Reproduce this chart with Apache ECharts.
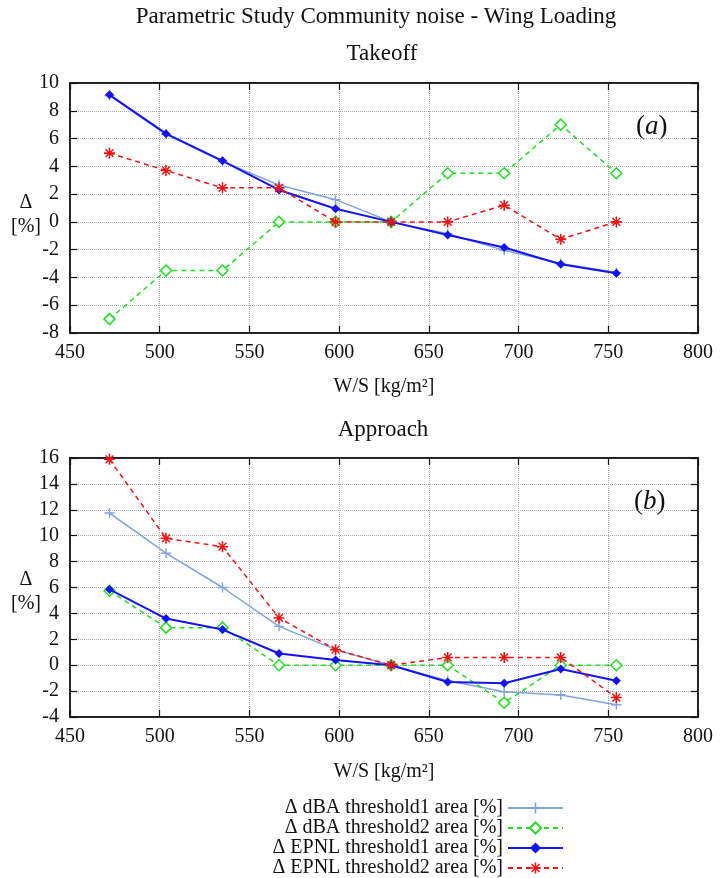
<!DOCTYPE html>
<html>
<head>
<meta charset="utf-8">
<script src="https://cdn.jsdelivr.net/npm/echarts@6/dist/echarts.min.js"></script>
<style>
  html, body { margin: 0; padding: 0; background: #fff; }
  #chart { width: 726px; height: 878px; }
</style>
</head>
<body>
<div id="chart"></div>
<script>
// W/S values of the ten design points [kg/m2]
var wsValues = [472, 503.5, 535, 566.5, 598, 629, 660.5, 692, 723.5, 754.5];
var xTicks = [450, 800, 50];

// Takeoff, delta [%]
var toDbaT1  = [9.1, 6.3, 4.35, 2.65, 1.6, 0, -0.85, -2.05, -3.0, -3.65];
var toDbaT2  = [-7, -3.5, -3.5, 0, 0, 0, 3.5, 3.5, 7, 3.5];
var toEpnlT1 = [9.15, 6.35, 4.4, 2.3, 0.95, 0, -0.95, -1.85, -3.05, -3.7];
var toEpnlT2 = [4.95, 3.7, 2.45, 2.45, 0, 0, 0, 1.2, -1.25, 0];

// Approach, delta [%]
var apDbaT1  = [11.75, 8.65, 6.0, 3.0, 1.2, 0, -1.2, -2.05, -2.3, -3.05];
var apDbaT2  = [5.75, 2.9, 2.9, 0, 0, 0, 0, -2.9, 0, 0];
var apEpnlT1 = [5.85, 3.6, 2.75, 0.9, 0.4, 0, -1.3, -1.4, -0.3, -1.2];
var apEpnlT2 = [15.9, 9.8, 9.15, 3.65, 1.2, 0, 0.6, 0.6, 0.6, -2.5];

var seriesNames = [
  'Δ dBA threshold1 area [%]',
  'Δ dBA threshold2 area [%]',
  'Δ EPNL threshold1 area [%]',
  'Δ EPNL threshold2 area [%]'
];

var font = 'Liberation Serif';
var plusPath = 'path://M4.3,0H5.7V4.3H10V5.7H5.7V10H4.3V5.7H0V4.3H4.3Z';
var starPath = 'path://M4.3,0h1.4v10h-1.4z M0,4.3h10v1.4h-10z M1,1.9L1.9,1L9,8.1L8.1,9z M9,1.9L1.9,9L1,8.1L8.1,1z';

var styles = [
  { color: '#7fa3dd', width: 1.5, type: 'solid',  symbol: plusPath, size: 10, hollow: false },
  { color: '#22dd22', width: 1.5, type: [5, 4],   symbol: 'diamond', size: 11, hollow: true },
  { color: '#1414ee', width: 2,   type: 'solid',  symbol: 'diamond', size: 9,  hollow: false },
  { color: '#ee1414', width: 1.5, type: [5, 4],   symbol: starPath, size: 11, hollow: false }
];

function pairs(ys) {
  return ys.map(function (y, i) { return [wsValues[i], y]; });
}

function makeSeries(k, ys, gi) {
  var s = styles[k];
  return {
    name: seriesNames[k],
    type: 'line',
    xAxisIndex: gi * 2,
    yAxisIndex: gi * 2,
    data: pairs(ys),
    symbol: s.symbol,
    symbolSize: s.size,
    showAllSymbol: true,
    z: 2 + k,
    lineStyle: { color: s.color, width: s.width, type: s.type },
    itemStyle: s.hollow
      ? { color: '#fff', borderColor: s.color, borderWidth: 1.5 }
      : { color: s.color, borderWidth: 0 },
    emphasis: { disabled: true },
    animation: false
  };
}

function xAxes(gi, gap) {
  var base = {
    type: 'value', gridIndex: gi, min: xTicks[0], max: xTicks[1], interval: xTicks[2],
    axisLine: { show: true, onZero: false, lineStyle: { color: '#111', width: 1.5 } },
    axisTick: { show: true, inside: true, length: 7, lineStyle: { color: '#111', width: 1.2 } }
  };
  var bottom = Object.assign({}, base, {
    position: 'bottom',
    name: 'W/S [kg/m²]', nameLocation: 'middle', nameGap: gap,
    nameTextStyle: { fontFamily: font, fontSize: 20, color: '#111' },
    axisLabel: { fontFamily: font, fontSize: 20, color: '#111', margin: 10 },
    splitLine: { show: true, lineStyle: { color: '#aaa', type: 'dotted', width: 1 } }
  });
  var top = Object.assign({}, base, {
    position: 'top', axisLabel: { show: false }, splitLine: { show: false }
  });
  return [bottom, top];
}

function yAxes(gi, min, max) {
  var base = {
    type: 'value', gridIndex: gi, min: min, max: max, interval: 2,
    axisLine: { show: true, onZero: false, lineStyle: { color: '#111', width: 1.5 } },
    axisTick: { show: true, inside: true, length: 7, lineStyle: { color: '#111', width: 1.2 } }
  };
  var left = Object.assign({}, base, {
    position: 'left',
    axisLabel: { fontFamily: font, fontSize: 20, color: '#111', margin: 11 },
    splitLine: { show: true, lineStyle: { color: '#aaa', type: 'dotted', width: 1 } }
  });
  var right = Object.assign({}, base, {
    position: 'right', axisLabel: { show: false }, splitLine: { show: false }
  });
  return [left, right];
}

// y axis caption "Δ [%]" on two lines, left of the tick labels
function yCaption(y) {
  return { type: 'text', x: 26, y: y, style: {
    text: 'Δ\n[%]', align: 'center', verticalAlign: 'top', lineHeight: 24,
    fontFamily: font, fontSize: 20, fill: '#111' } };
}

function panelTag(letter, left, top) {
  return { type: 'text', left: left, top: top, style: {
    text: '({i|' + letter + '})', fontFamily: font, fontSize: 27, fill: '#111',
    rich: { i: { fontFamily: font, fontSize: 27, fontStyle: 'italic', fill: '#111' } } } };
}

var chart = echarts.init(document.getElementById('chart'), null, { renderer: 'canvas' });

var option = {
  backgroundColor: '#fff',
  animation: false,
  title: [
    { text: 'Parametric Study Community noise - Wing Loading', left: 371, top: 0, textAlign: 'center',
      textStyle: { fontFamily: font, fontSize: 23, fontWeight: 'normal', color: '#111' } },
    { text: 'Takeoff', left: 377, top: 37, textAlign: 'center',
      textStyle: { fontFamily: font, fontSize: 23, fontWeight: 'normal', color: '#111' } },
    { text: 'Approach', left: 378, top: 413, textAlign: 'center',
      textStyle: { fontFamily: font, fontSize: 23, fontWeight: 'normal', color: '#111' } }
  ],
  grid: [
    { left: 70, right: 28, top: 83, height: 250, show: true, borderColor: '#111', borderWidth: 1.5, backgroundColor: 'transparent' },
    { left: 70, right: 28, top: 458, height: 259, show: true, borderColor: '#111', borderWidth: 1.5, backgroundColor: 'transparent' }
  ],
  xAxis: xAxes(0, 44).concat(xAxes(1, 45)),
  yAxis: yAxes(0, -8, 10).concat(yAxes(1, -4, 16)),
  legend: {
    data: seriesNames,
    orient: 'vertical',
    align: 'right',
    right: 162,
    top: 798,
    height: 80,
    padding: 0,
    itemWidth: 55,
    itemHeight: 14,
    itemGap: 0,
    selectedMode: false,
    textStyle: { fontFamily: font, fontSize: 20, color: '#111', lineHeight: 19 }
  },
  graphic: [
    yCaption(191),
    yCaption(568),
    panelTag('a', 636, 113),
    panelTag('b', 634, 488)
  ],
  series: [
    makeSeries(0, toDbaT1, 0),
    makeSeries(1, toDbaT2, 0),
    makeSeries(2, toEpnlT1, 0),
    makeSeries(3, toEpnlT2, 0),
    makeSeries(0, apDbaT1, 1),
    makeSeries(1, apDbaT2, 1),
    makeSeries(2, apEpnlT1, 1),
    makeSeries(3, apEpnlT2, 1)
  ]
};

chart.setOption(option);
</script>
</body>
</html>
